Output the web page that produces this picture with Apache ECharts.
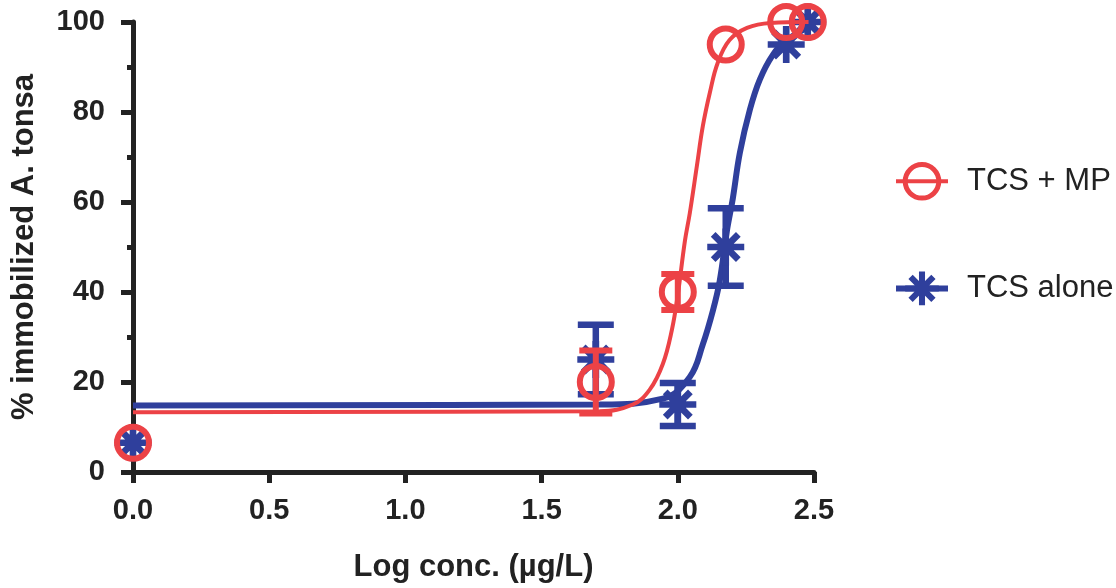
<!DOCTYPE html>
<html>
<head>
<meta charset="utf-8">
<script src="https://cdn.jsdelivr.net/npm/echarts@6/dist/echarts.min.js"></script>
<style>html,body{margin:0;padding:0;background:#fff;overflow:hidden;}#c{width:1116px;height:588px;}</style>
</head>
<body>
<div id="c"></div>
<script>
// Measured points (x = log concentration, y = % immobilized)
const doseX = [0, 1.699, 2.0, 2.176, 2.398, 2.477];
const mpY = [6.5, 20, 40, 95, 100, 100];
const mpErr = [0, 7, 4, 0, 0, 0];
const aloneY = [6.5, 25, 15, 50, 95, 100];
const aloneErr = [0, 7.7, 4.8, 8.6, 0, 0];

// Fitted curves
const mpCurveX = [0, 1.713, 1.835, 1.897, 1.945, 1.978, 2.0, 2.026, 2.044, 2.07, 2.092, 2.118, 2.147, 2.19, 2.254, 2.34, 2.48];
const mpCurveY = [13.3, 13.5, 15, 18.3, 24, 31.5, 39.4, 51.3, 57.5, 68, 76.9, 84.4, 91, 96, 98.7, 99.8, 100];
const aloneCurveX = [0, 1.713, 1.945, 2.044, 2.092, 2.129, 2.154, 2.18, 2.202, 2.228, 2.265, 2.301, 2.349, 2.40, 2.48];
const aloneCurveY = [14.8, 15.0, 16.3, 21.1, 28.4, 35.9, 42.5, 53.5, 60.8, 71, 80.6, 87.2, 92.7, 96, 98.8];

const xTicks = [0, 0.5, 1.0, 1.5, 2.0, 2.5];
const yTicks = [0, 20, 40, 60, 80, 100];
const seriesNames = ['TCS + MP', 'TCS alone'];

const RED = '#ec4246';
const BLUE = '#2f3f9c';
const STAR = 'path://M0 41L100 41L100 59L0 59Z M41 0L59 0L59 100L41 100Z M22.36 9.64L90.36 77.64L77.64 90.36L9.64 22.36Z M77.64 9.64L90.36 22.36L22.36 90.36L9.64 77.64Z';
const FONT = '"Liberation Sans", Arial, sans-serif';

function zip(xs, ys) { return xs.map((x, i) => [x, ys[i]]); }
function zip3(xs, ys, es) { return xs.map((x, i) => [x, ys[i], es[i]]); }

function errRender(color, capHalf, width) {
  return function (params, api) {
    const x = api.value(0), y = api.value(1), e = api.value(2);
    if (!e) return null;
    const t = api.coord([x, y + e]);
    const b = api.coord([x, y - e]);
    const st = { stroke: color, lineWidth: width, lineCap: 'butt' };
    return {
      type: 'group',
      children: [
        { type: 'line', shape: { x1: t[0], y1: t[1], x2: b[0], y2: b[1] }, style: st },
        { type: 'line', shape: { x1: t[0] - capHalf, y1: t[1], x2: t[0] + capHalf, y2: t[1] }, style: st },
        { type: 'line', shape: { x1: b[0] - capHalf, y1: b[1], x2: b[0] + capHalf, y2: b[1] }, style: st }
      ]
    };
  };
}

const chart = echarts.init(document.getElementById('c'), null, { renderer: 'canvas' });
chart.setOption({
  backgroundColor: '#fff',
  animation: false,
  textStyle: { fontFamily: FONT },
  grid: { left: 133, right: 302, top: 22, bottom: 111, containLabel: false },
  xAxis: {
    type: 'value', min: 0, max: 2.5, interval: 0.5,
    name: 'Log conc. (µg/L)', nameLocation: 'middle', nameGap: 80,
    nameTextStyle: { fontSize: 31, fontWeight: 'bold', color: '#222', fontFamily: FONT },
    axisLine: { show: true, onZero: false, lineStyle: { color: '#222', width: 5 } },
    axisTick: { show: true, length: 11, lineStyle: { color: '#222', width: 5 } },
    axisLabel: { fontSize: 29, fontWeight: 'bold', color: '#222', margin: 24, fontFamily: FONT,
      formatter: v => xTicks.indexOf(v) >= 0 ? v.toFixed(1) : '' },
    splitLine: { show: false }
  },
  yAxis: {
    type: 'value', min: 0, max: 100, interval: 20,
    name: '% immobilized A. tonsa', nameLocation: 'middle', nameGap: 93,
    nameTextStyle: { fontSize: 31, fontWeight: 'bold', color: '#222', fontFamily: FONT },
    axisLine: { show: true, lineStyle: { color: '#222', width: 5 } },
    axisTick: { show: true, length: 12, lineStyle: { color: '#222', width: 5 } },
    minorTick: { show: true, splitNumber: 2, length: 6, lineStyle: { color: '#222', width: 5 } },
    axisLabel: { fontSize: 29, fontWeight: 'bold', color: '#222', margin: 28, fontFamily: FONT,
      formatter: v => yTicks.indexOf(v) >= 0 ? String(v) : '' },
    splitLine: { show: false }
  },
  legend: {
    orient: 'vertical', left: 888, top: 157,
    itemWidth: 52, itemHeight: 42, itemGap: 71,
    data: seriesNames,
    lineStyle: { width: 'inherit' },
    itemStyle: { borderWidth: 'inherit' },
    textStyle: { fontSize: 31, color: '#222', fontFamily: FONT, padding: [0, 0, 0, 14] }
  },
  series: [
    {
      name: seriesNames[1], type: 'line', data: zip(aloneCurveX, aloneCurveY),
      smooth: 0.4, showSymbol: false, symbol: STAR, symbolSize: 36,
      itemStyle: { color: BLUE },
      lineStyle: { color: BLUE, width: 6 }, z: 2
    },
    {
      name: seriesNames[1], type: 'custom', data: zip3(doseX, aloneY, aloneErr),
      renderItem: errRender(BLUE, 18, 6.5), z: 3
    },
    {
      name: seriesNames[1], type: 'scatter', data: zip(doseX, aloneY),
      symbol: STAR, symbolSize: 37, itemStyle: { color: BLUE, opacity: 1 }, z: 4
    },
    {
      name: seriesNames[0], type: 'line', data: zip(mpCurveX, mpCurveY),
      smooth: 0.4, showSymbol: false, symbol: 'circle', symbolSize: 32,
      itemStyle: { color: 'rgba(0,0,0,0)', borderColor: RED, borderWidth: 5 },
      lineStyle: { color: RED, width: 4 }, z: 5
    },
    {
      name: seriesNames[0], type: 'custom', data: zip3(doseX, mpY, mpErr),
      renderItem: errRender(RED, 16.5, 6), z: 6
    },
    {
      name: seriesNames[0], type: 'scatter', data: zip(doseX, mpY),
      symbol: 'circle', symbolSize: 32,
      itemStyle: { color: 'rgba(0,0,0,0)', borderColor: RED, borderWidth: 6, opacity: 1 }, z: 7
    }
  ]
});
</script>
</body>
</html>
